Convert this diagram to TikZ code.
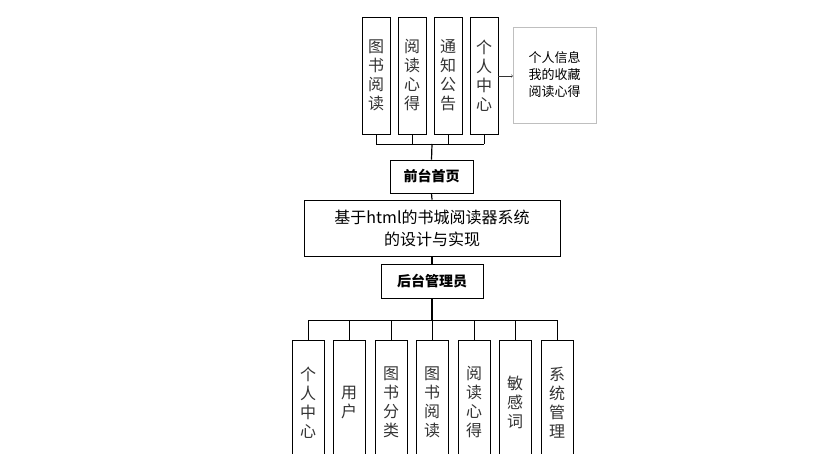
\documentclass[tikz,border=0pt]{standalone}
\usepackage{fontspec}
\setmainfont{Noto Sans CJK SC}
\begin{document}
\begin{tikzpicture}[x=1pt,y=-1pt,
  vbox/.style={draw=black,thick,fill=white,minimum width=28pt,minimum height=117pt,inner sep=0pt,font=\fontsize{16}{19}\selectfont,align=center,text=black!80},
  bbox/.style={draw=black,thick,fill=white,inner sep=0pt,font=\bfseries\fontsize{14}{17}\selectfont,align=center},
  ln/.style={draw=black,line width=0.8pt}]
\useasboundingbox (0,0) rectangle (813,454);
\foreach \n/\x/\t in {t1/376/图\\书\\阅\\读, t2/412/阅\\读\\心\\得, t3/448/通\\知\\公\\告, t4/484/个\\人\\中\\心}
  \node[vbox] (\n) at (\x,75.5) {\t};
\node[draw=black!25,fill=white,minimum width=83pt,minimum height=96pt,inner sep=0pt,align=center,font=\fontsize{13}{17}\selectfont] (info) at (554.5,75) {个人信息\\我的收藏\\阅读心得};
\draw[->,black!80] (t4.east |- 0,76) coordinate (a1) -- (info.west |- a1);
\node[bbox,minimum width=83pt,minimum height=33pt] (front) at (431.5,176.5) {前台首页};
\node[bbox,font=\fontsize{16}{22}\selectfont,minimum width=256pt,minimum height=56pt] (main) at (432,228) {基于html的书城阅读器系统\\的设计与实现};
\node[bbox,minimum width=102pt,minimum height=34pt] (back) at (432,281) {后台管理员};
\coordinate (h1) at (432,144);
\foreach \n in {t1,t2,t3,t4} \draw[ln] (\n.south) -- (\n.south |- h1);
\draw[ln] (t1.south |- h1) -- (t4.south |- h1);
\draw[line width=1.2pt] (h1) -- (front.north);
\draw[line width=1.2pt] (front.south) -- (main.north);
\draw[line width=1.2pt] (main.south) -- (back.north);
\coordinate (h2) at (432,320);
\draw[line width=1.2pt] (back.south) -- (h2);
\foreach \n/\x/\t in {b1/308/个\\人\\中\\心, b2/349/用\\户, b3/391/图\\书\\分\\类, b4/432/图\\书\\阅\\读, b5/474/阅\\读\\心\\得, b6/515/敏\\感\\词, b7/557/系\\统\\管\\理}{
  \node[vbox,minimum width=32pt,minimum height=124pt,anchor=north] (\n) at (\x,340) {\t};
  \draw[ln] (\n.north) -- (\n.north |- h2);}
\draw[ln] (b1.north |- h2) -- (b7.north |- h2);
\end{tikzpicture}
\end{document}
